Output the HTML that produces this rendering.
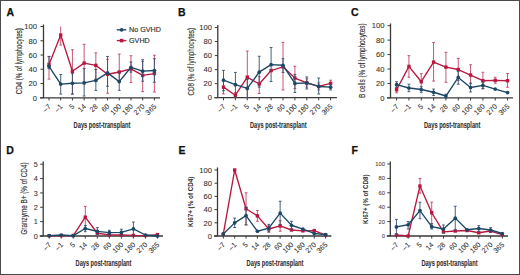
<!DOCTYPE html>
<html><head><meta charset="utf-8"><style>
html,body{margin:0;padding:0;background:#fff;}
svg{display:block;font-family:"Liberation Sans", sans-serif;}
</style></head><body>
<svg width="520" height="275" viewBox="0 0 520 275">
<rect x="0" y="0" width="520" height="275" fill="#fff"/>
<text x="6.6" y="16.3" font-size="10.5" font-weight="bold" fill="#111" stroke="#111" stroke-width="0.25">A</text>
<path d="M43.5 24.5V97.8M40 97.8H160" stroke="#3a3a3a" stroke-width="1.3" fill="none"/>
<path d="M40.5 97.8h3M40.5 83.54h3M40.5 69.28h3M40.5 55.02h3M40.5 40.76h3M40.5 26.5h3" stroke="#3a3a3a" stroke-width="1"/>
<text x="36.9" y="100.54" font-size="7.6" text-anchor="end" fill="#303030" stroke="#303030" stroke-width="0.08">0</text>
<text x="36.9" y="86.28" font-size="7.6" text-anchor="end" fill="#303030" stroke="#303030" stroke-width="0.08">20</text>
<text x="36.9" y="72.02" font-size="7.6" text-anchor="end" fill="#303030" stroke="#303030" stroke-width="0.08">40</text>
<text x="36.9" y="57.76" font-size="7.6" text-anchor="end" fill="#303030" stroke="#303030" stroke-width="0.08">60</text>
<text x="36.9" y="43.5" font-size="7.6" text-anchor="end" fill="#303030" stroke="#303030" stroke-width="0.08">80</text>
<text x="36.9" y="29.24" font-size="7.6" text-anchor="end" fill="#303030" stroke="#303030" stroke-width="0.08">100</text>
<path d="M49 97.8v2.6M60.71 97.8v2.6M72.42 97.8v2.6M84.13 97.8v2.6M95.84 97.8v2.6M107.55 97.8v2.6M119.26 97.8v2.6M130.97 97.8v2.6M142.68 97.8v2.6M154.39 97.8v2.6" stroke="#3a3a3a" stroke-width="1"/>
<text transform="translate(51.4 106.9) rotate(-45)" font-size="7.2" text-anchor="end" fill="#303030" stroke="#303030" stroke-width="0.06">–7</text>
<text transform="translate(63.11 106.9) rotate(-45)" font-size="7.2" text-anchor="end" fill="#303030" stroke="#303030" stroke-width="0.06">–1</text>
<text transform="translate(74.82 106.9) rotate(-45)" font-size="7.2" text-anchor="end" fill="#303030" stroke="#303030" stroke-width="0.06">5</text>
<text transform="translate(86.53 106.9) rotate(-45)" font-size="7.2" text-anchor="end" fill="#303030" stroke="#303030" stroke-width="0.06">14</text>
<text transform="translate(98.24 106.9) rotate(-45)" font-size="7.2" text-anchor="end" fill="#303030" stroke="#303030" stroke-width="0.06">28</text>
<text transform="translate(109.95 106.9) rotate(-45)" font-size="7.2" text-anchor="end" fill="#303030" stroke="#303030" stroke-width="0.06">60</text>
<text transform="translate(121.66 106.9) rotate(-45)" font-size="7.2" text-anchor="end" fill="#303030" stroke="#303030" stroke-width="0.06">100</text>
<text transform="translate(133.37 106.9) rotate(-45)" font-size="7.2" text-anchor="end" fill="#303030" stroke="#303030" stroke-width="0.06">180</text>
<text transform="translate(145.08 106.9) rotate(-45)" font-size="7.2" text-anchor="end" fill="#303030" stroke="#303030" stroke-width="0.06">270</text>
<text transform="translate(156.79 106.9) rotate(-45)" font-size="7.2" text-anchor="end" fill="#303030" stroke="#303030" stroke-width="0.06">365</text>
<text x="73.6" y="127.8" font-size="8.6" font-weight="bold" fill="#303030" stroke="#303030" stroke-width="0.1" textLength="56.8" lengthAdjust="spacingAndGlyphs">Days post-transplant</text>
<text transform="translate(21.6 94.3) rotate(-90)" font-size="8.3" font-weight="normal" fill="#303030" stroke="#303030" stroke-width="0.12" textLength="66.1" lengthAdjust="spacingAndGlyphs">CD4 (% of lymphocytes)</text>
<path d="M49 79.12V56.45M47.6 79.12h2.8M47.6 56.45h2.8M60.71 45.04V26.5M59.31 45.04h2.8M72.42 94.09V49.74M71.02 94.09h2.8M71.02 49.74h2.8M84.13 82.11V44.33M82.73 82.11h2.8M82.73 44.33h2.8M95.84 79.97V52.88M94.44 79.97h2.8M94.44 52.88h2.8M107.55 93.24V59.3M106.15 93.24h2.8M106.15 59.3h2.8M119.26 80.69V54.09M117.86 80.69h2.8M117.86 54.09h2.8M130.97 82.47V55.73M129.57 82.47h2.8M129.57 55.73h2.8M142.68 91.6V61.44M141.28 91.6h2.8M141.28 61.44h2.8M154.39 92.02V55.23M152.99 92.02h2.8M152.99 55.23h2.8" stroke="#bf4565" stroke-width="0.9" fill="none"/>
<polyline points="49,64.43 60.71,35.06 72.42,71.28 84.13,63.08 95.84,65.36 107.55,74.27 119.26,71.99 130.97,68.92 142.68,75.41 154.39,73.56" stroke="#b8183f" stroke-width="1.35" fill="none" stroke-linejoin="round"/>
<rect x="47.3" y="62.73" width="3.4" height="3.4" fill="#b8183f"/>
<rect x="59.01" y="33.36" width="3.4" height="3.4" fill="#b8183f"/>
<rect x="70.72" y="69.58" width="3.4" height="3.4" fill="#b8183f"/>
<rect x="82.43" y="61.38" width="3.4" height="3.4" fill="#b8183f"/>
<rect x="94.14" y="63.66" width="3.4" height="3.4" fill="#b8183f"/>
<rect x="105.85" y="72.57" width="3.4" height="3.4" fill="#b8183f"/>
<rect x="117.56" y="70.29" width="3.4" height="3.4" fill="#b8183f"/>
<rect x="129.27" y="67.22" width="3.4" height="3.4" fill="#b8183f"/>
<rect x="140.98" y="73.71" width="3.4" height="3.4" fill="#b8183f"/>
<rect x="152.69" y="71.86" width="3.4" height="3.4" fill="#b8183f"/>
<path d="M49 68.57V56.45M47.6 68.57h2.8M47.6 56.45h2.8M60.71 94.09V74.48M59.31 94.09h2.8M59.31 74.48h2.8M72.42 94.09V73.56M71.02 94.09h2.8M71.02 73.56h2.8M84.13 96.02V68.57M82.73 96.02h2.8M82.73 68.57h2.8M95.84 90.38V69.49M94.44 90.38h2.8M94.44 69.49h2.8M107.55 86.25V56.45M106.15 86.25h2.8M106.15 56.45h2.8M119.26 90.38V72.84M117.86 90.38h2.8M117.86 72.84h2.8M130.97 72.13V61.94M129.57 72.13h2.8M129.57 61.94h2.8M142.68 81.26V59.73M141.28 81.26h2.8M141.28 59.73h2.8M154.39 82.26V58.73M152.99 82.26h2.8M152.99 58.73h2.8" stroke="#34506e" stroke-width="0.9" fill="none"/>
<polyline points="49,66.43 60.71,84.11 72.42,83.25 84.13,82.9 95.84,80.4 107.55,72.84 119.26,81.61 130.97,67.28 142.68,71.13 154.39,70.49" stroke="#1c4866" stroke-width="1.35" fill="none" stroke-linejoin="round"/>
<circle cx="49" cy="66.43" r="1.85" fill="#1c4866"/>
<circle cx="60.71" cy="84.11" r="1.85" fill="#1c4866"/>
<circle cx="72.42" cy="83.25" r="1.85" fill="#1c4866"/>
<circle cx="84.13" cy="82.9" r="1.85" fill="#1c4866"/>
<circle cx="95.84" cy="80.4" r="1.85" fill="#1c4866"/>
<circle cx="107.55" cy="72.84" r="1.85" fill="#1c4866"/>
<circle cx="119.26" cy="81.61" r="1.85" fill="#1c4866"/>
<circle cx="130.97" cy="67.28" r="1.85" fill="#1c4866"/>
<circle cx="142.68" cy="71.13" r="1.85" fill="#1c4866"/>
<circle cx="154.39" cy="70.49" r="1.85" fill="#1c4866"/>
<path d="M116.8 29.8H126.3" stroke="#1c4866" stroke-width="1.35"/><circle cx="121.6" cy="29.8" r="1.9" fill="#1c4866"/>
<path d="M116.8 40.6H126.3" stroke="#b8183f" stroke-width="1.35"/><rect x="119.85" y="38.85" width="3.5" height="3.5" fill="#b8183f"/>
<text x="129" y="32.4" font-size="7.2" fill="#303030" stroke="#303030" stroke-width="0.15">No GVHD</text>
<text x="129" y="43.2" font-size="7.2" fill="#303030" stroke="#303030" stroke-width="0.15">GVHD</text>
<text x="178" y="16" font-size="10.5" font-weight="bold" fill="#111" stroke="#111" stroke-width="0.25">B</text>
<path d="M217.8 25V97.7M214.3 97.7H336.9" stroke="#3a3a3a" stroke-width="1.3" fill="none"/>
<path d="M214.8 97.7h3M214.8 83.66h3M214.8 69.62h3M214.8 55.58h3M214.8 41.54h3M214.8 27.5h3" stroke="#3a3a3a" stroke-width="1"/>
<text x="211.9" y="100.44" font-size="7.6" text-anchor="end" fill="#303030" stroke="#303030" stroke-width="0.08">0</text>
<text x="211.9" y="86.4" font-size="7.6" text-anchor="end" fill="#303030" stroke="#303030" stroke-width="0.08">20</text>
<text x="211.9" y="72.36" font-size="7.6" text-anchor="end" fill="#303030" stroke="#303030" stroke-width="0.08">40</text>
<text x="211.9" y="58.32" font-size="7.6" text-anchor="end" fill="#303030" stroke="#303030" stroke-width="0.08">60</text>
<text x="211.9" y="44.28" font-size="7.6" text-anchor="end" fill="#303030" stroke="#303030" stroke-width="0.08">80</text>
<text x="211.9" y="30.24" font-size="7.6" text-anchor="end" fill="#303030" stroke="#303030" stroke-width="0.08">100</text>
<path d="M223.5 97.7v2.6M235.4 97.7v2.6M247.3 97.7v2.6M259.2 97.7v2.6M271.1 97.7v2.6M283 97.7v2.6M294.9 97.7v2.6M306.8 97.7v2.6M318.7 97.7v2.6M330.6 97.7v2.6" stroke="#3a3a3a" stroke-width="1"/>
<text transform="translate(225.9 106.8) rotate(-45)" font-size="7.2" text-anchor="end" fill="#303030" stroke="#303030" stroke-width="0.06">–7</text>
<text transform="translate(237.8 106.8) rotate(-45)" font-size="7.2" text-anchor="end" fill="#303030" stroke="#303030" stroke-width="0.06">–1</text>
<text transform="translate(249.7 106.8) rotate(-45)" font-size="7.2" text-anchor="end" fill="#303030" stroke="#303030" stroke-width="0.06">5</text>
<text transform="translate(261.6 106.8) rotate(-45)" font-size="7.2" text-anchor="end" fill="#303030" stroke="#303030" stroke-width="0.06">14</text>
<text transform="translate(273.5 106.8) rotate(-45)" font-size="7.2" text-anchor="end" fill="#303030" stroke="#303030" stroke-width="0.06">28</text>
<text transform="translate(285.4 106.8) rotate(-45)" font-size="7.2" text-anchor="end" fill="#303030" stroke="#303030" stroke-width="0.06">60</text>
<text transform="translate(297.3 106.8) rotate(-45)" font-size="7.2" text-anchor="end" fill="#303030" stroke="#303030" stroke-width="0.06">100</text>
<text transform="translate(309.2 106.8) rotate(-45)" font-size="7.2" text-anchor="end" fill="#303030" stroke="#303030" stroke-width="0.06">180</text>
<text transform="translate(321.1 106.8) rotate(-45)" font-size="7.2" text-anchor="end" fill="#303030" stroke="#303030" stroke-width="0.06">270</text>
<text transform="translate(333 106.8) rotate(-45)" font-size="7.2" text-anchor="end" fill="#303030" stroke="#303030" stroke-width="0.06">365</text>
<text x="250" y="127.8" font-size="8.6" font-weight="bold" fill="#303030" stroke="#303030" stroke-width="0.1" textLength="56.6" lengthAdjust="spacingAndGlyphs">Days post-transplant</text>
<text transform="translate(193.6 95.5) rotate(-90)" font-size="8.3" font-weight="normal" fill="#303030" stroke="#303030" stroke-width="0.12" textLength="67.5" lengthAdjust="spacingAndGlyphs">CD8 (% of lymphocytes)</text>
<path d="M223.5 93.98V80.15M222.1 93.98h2.8M222.1 80.15h2.8M235.4 97.7V92.79M234 97.7h2.8M234 92.79h2.8M247.3 97.7V51.02M245.9 97.7h2.8M245.9 51.02h2.8M259.2 93.49V76.64M257.8 93.49h2.8M257.8 76.64h2.8M283 89.98V42.45M281.6 89.98h2.8M281.6 42.45h2.8M294.9 88.57V66.25M293.5 88.57h2.8M293.5 66.25h2.8M306.8 87.17V78.75M305.4 87.17h2.8M305.4 78.75h2.8M318.7 89.98V82.96M317.3 89.98h2.8M317.3 82.96h2.8M330.6 86.47V80.22M329.2 86.47h2.8M329.2 80.22h2.8" stroke="#bf4565" stroke-width="0.9" fill="none"/>
<polyline points="223.5,87.17 235.4,95.24 247.3,77.13 259.2,84.01 271.1,70.53 283,66.81 294.9,78.04 306.8,82.96 318.7,86.47 330.6,83.38" stroke="#b8183f" stroke-width="1.35" fill="none" stroke-linejoin="round"/>
<rect x="221.8" y="85.47" width="3.4" height="3.4" fill="#b8183f"/>
<rect x="233.7" y="93.54" width="3.4" height="3.4" fill="#b8183f"/>
<rect x="245.6" y="75.43" width="3.4" height="3.4" fill="#b8183f"/>
<rect x="257.5" y="82.31" width="3.4" height="3.4" fill="#b8183f"/>
<rect x="269.4" y="68.83" width="3.4" height="3.4" fill="#b8183f"/>
<rect x="281.3" y="65.11" width="3.4" height="3.4" fill="#b8183f"/>
<rect x="293.2" y="76.34" width="3.4" height="3.4" fill="#b8183f"/>
<rect x="305.1" y="81.26" width="3.4" height="3.4" fill="#b8183f"/>
<rect x="317" y="84.77" width="3.4" height="3.4" fill="#b8183f"/>
<rect x="328.9" y="81.68" width="3.4" height="3.4" fill="#b8183f"/>
<path d="M223.5 90.68V70.32M222.1 90.68h2.8M222.1 70.32h2.8M235.4 97V72.43M234 97h2.8M234 72.43h2.8M247.3 97.7V79.45M245.9 97.7h2.8M245.9 79.45h2.8M259.2 87.17V56.28M257.8 87.17h2.8M257.8 56.28h2.8M271.1 81.55V47.51M269.7 81.55h2.8M269.7 47.51h2.8M283 72.43V58.67M281.6 72.43h2.8M281.6 58.67h2.8M294.9 92.51V74.53M293.5 92.51h2.8M293.5 74.53h2.8M306.8 89V76.92M305.4 89h2.8M305.4 76.92h2.8M318.7 93.98V78.04M317.3 93.98h2.8M317.3 78.04h2.8M330.6 89.98V84.36M329.2 89.98h2.8M329.2 84.36h2.8" stroke="#34506e" stroke-width="0.9" fill="none"/>
<polyline points="223.5,80.22 235.4,84.64 247.3,88.43 259.2,72.15 271.1,64.64 283,65.27 294.9,83.38 306.8,82.96 318.7,86.47 330.6,87.17" stroke="#1c4866" stroke-width="1.35" fill="none" stroke-linejoin="round"/>
<circle cx="223.5" cy="80.22" r="1.85" fill="#1c4866"/>
<circle cx="235.4" cy="84.64" r="1.85" fill="#1c4866"/>
<circle cx="247.3" cy="88.43" r="1.85" fill="#1c4866"/>
<circle cx="259.2" cy="72.15" r="1.85" fill="#1c4866"/>
<circle cx="271.1" cy="64.64" r="1.85" fill="#1c4866"/>
<circle cx="283" cy="65.27" r="1.85" fill="#1c4866"/>
<circle cx="294.9" cy="83.38" r="1.85" fill="#1c4866"/>
<circle cx="306.8" cy="82.96" r="1.85" fill="#1c4866"/>
<circle cx="318.7" cy="86.47" r="1.85" fill="#1c4866"/>
<circle cx="330.6" cy="87.17" r="1.85" fill="#1c4866"/>
<text x="351" y="16" font-size="10.5" font-weight="bold" fill="#111" stroke="#111" stroke-width="0.25">C</text>
<path d="M390.5 23.5V97.9M387 97.9H513" stroke="#3a3a3a" stroke-width="1.3" fill="none"/>
<path d="M387.5 97.9h3M387.5 83.46h3M387.5 69.02h3M387.5 54.58h3M387.5 40.14h3M387.5 25.7h3" stroke="#3a3a3a" stroke-width="1"/>
<text x="384.4" y="100.64" font-size="7.6" text-anchor="end" fill="#303030" stroke="#303030" stroke-width="0.08">0</text>
<text x="384.4" y="86.2" font-size="7.6" text-anchor="end" fill="#303030" stroke="#303030" stroke-width="0.08">20</text>
<text x="384.4" y="71.76" font-size="7.6" text-anchor="end" fill="#303030" stroke="#303030" stroke-width="0.08">40</text>
<text x="384.4" y="57.32" font-size="7.6" text-anchor="end" fill="#303030" stroke="#303030" stroke-width="0.08">60</text>
<text x="384.4" y="42.88" font-size="7.6" text-anchor="end" fill="#303030" stroke="#303030" stroke-width="0.08">80</text>
<text x="384.4" y="28.44" font-size="7.6" text-anchor="end" fill="#303030" stroke="#303030" stroke-width="0.08">100</text>
<path d="M396.6 97.9v2.6M408.93 97.9v2.6M421.26 97.9v2.6M433.59 97.9v2.6M445.92 97.9v2.6M458.25 97.9v2.6M470.58 97.9v2.6M482.91 97.9v2.6M495.24 97.9v2.6M507.57 97.9v2.6" stroke="#3a3a3a" stroke-width="1"/>
<text transform="translate(399 107) rotate(-45)" font-size="7.2" text-anchor="end" fill="#303030" stroke="#303030" stroke-width="0.06">–7</text>
<text transform="translate(411.33 107) rotate(-45)" font-size="7.2" text-anchor="end" fill="#303030" stroke="#303030" stroke-width="0.06">–1</text>
<text transform="translate(423.66 107) rotate(-45)" font-size="7.2" text-anchor="end" fill="#303030" stroke="#303030" stroke-width="0.06">5</text>
<text transform="translate(435.99 107) rotate(-45)" font-size="7.2" text-anchor="end" fill="#303030" stroke="#303030" stroke-width="0.06">14</text>
<text transform="translate(448.32 107) rotate(-45)" font-size="7.2" text-anchor="end" fill="#303030" stroke="#303030" stroke-width="0.06">28</text>
<text transform="translate(460.65 107) rotate(-45)" font-size="7.2" text-anchor="end" fill="#303030" stroke="#303030" stroke-width="0.06">60</text>
<text transform="translate(472.98 107) rotate(-45)" font-size="7.2" text-anchor="end" fill="#303030" stroke="#303030" stroke-width="0.06">100</text>
<text transform="translate(485.31 107) rotate(-45)" font-size="7.2" text-anchor="end" fill="#303030" stroke="#303030" stroke-width="0.06">180</text>
<text transform="translate(497.64 107) rotate(-45)" font-size="7.2" text-anchor="end" fill="#303030" stroke="#303030" stroke-width="0.06">270</text>
<text transform="translate(509.97 107) rotate(-45)" font-size="7.2" text-anchor="end" fill="#303030" stroke="#303030" stroke-width="0.06">365</text>
<text x="424" y="127.8" font-size="8.6" font-weight="bold" fill="#303030" stroke="#303030" stroke-width="0.1" textLength="56.4" lengthAdjust="spacingAndGlyphs">Days post-transplant</text>
<text transform="translate(365.4 98.1) rotate(-90)" font-size="8.3" font-weight="normal" fill="#303030" stroke="#303030" stroke-width="0.12" textLength="74.7" lengthAdjust="spacingAndGlyphs">B cells (% of lymphocytes)</text>
<path d="M396.6 92.85V87.21M395.2 92.85h2.8M395.2 87.21h2.8M408.93 77.25V55.66M407.53 77.25h2.8M407.53 55.66h2.8M421.26 89.81V73.64M419.86 89.81h2.8M419.86 73.64h2.8M433.59 81.08V42.52M432.19 81.08h2.8M432.19 42.52h2.8M445.92 82.3V52.34M444.52 82.3h2.8M444.52 52.34h2.8M458.25 80.57V58.48M456.85 80.57h2.8M456.85 58.48h2.8M470.58 83.68V64.76M469.18 83.68h2.8M469.18 64.76h2.8M482.91 88.51V72.27M481.51 88.51h2.8M481.51 72.27h2.8M495.24 83.24V77.25M493.84 83.24h2.8M493.84 77.25h2.8M507.57 87.21V73.5M506.17 87.21h2.8M506.17 73.5h2.8" stroke="#bf4565" stroke-width="0.9" fill="none"/>
<polyline points="396.6,89.74 408.93,66.42 421.26,81.73 433.59,62.09 445.92,67.14 458.25,69.53 470.58,75.01 482.91,80.72 495.24,80.43 507.57,80.72" stroke="#b8183f" stroke-width="1.35" fill="none" stroke-linejoin="round"/>
<rect x="394.9" y="88.04" width="3.4" height="3.4" fill="#b8183f"/>
<rect x="407.23" y="64.72" width="3.4" height="3.4" fill="#b8183f"/>
<rect x="419.56" y="80.03" width="3.4" height="3.4" fill="#b8183f"/>
<rect x="431.89" y="60.39" width="3.4" height="3.4" fill="#b8183f"/>
<rect x="444.22" y="65.44" width="3.4" height="3.4" fill="#b8183f"/>
<rect x="456.55" y="67.83" width="3.4" height="3.4" fill="#b8183f"/>
<rect x="468.88" y="73.31" width="3.4" height="3.4" fill="#b8183f"/>
<rect x="481.21" y="79.02" width="3.4" height="3.4" fill="#b8183f"/>
<rect x="493.54" y="78.73" width="3.4" height="3.4" fill="#b8183f"/>
<rect x="505.87" y="79.02" width="3.4" height="3.4" fill="#b8183f"/>
<path d="M396.6 87.36V81.73M395.2 87.36h2.8M395.2 81.73h2.8M408.93 91.62V84.18M407.53 91.62h2.8M407.53 84.18h2.8M421.26 92.34V86.71M419.86 92.34h2.8M419.86 86.71h2.8M433.59 95.45V89.09M432.19 95.45h2.8M432.19 89.09h2.8M445.92 97.9V94.29M444.52 97.9h2.8M444.52 94.29h2.8M458.25 84.18V71.19M456.85 84.18h2.8M456.85 71.19h2.8M470.58 91.98V83.1M469.18 91.98h2.8M469.18 83.1h2.8M482.91 88.88V82.02M481.51 88.88h2.8M481.51 82.02h2.8" stroke="#34506e" stroke-width="0.9" fill="none"/>
<polyline points="396.6,84.54 408.93,88.01 421.26,89.52 433.59,92.27 445.92,96.02 458.25,77.47 470.58,87.5 482.91,85.41 495.24,89.09 507.57,92.56" stroke="#1c4866" stroke-width="1.35" fill="none" stroke-linejoin="round"/>
<circle cx="396.6" cy="84.54" r="1.85" fill="#1c4866"/>
<circle cx="408.93" cy="88.01" r="1.85" fill="#1c4866"/>
<circle cx="421.26" cy="89.52" r="1.85" fill="#1c4866"/>
<circle cx="433.59" cy="92.27" r="1.85" fill="#1c4866"/>
<circle cx="445.92" cy="96.02" r="1.85" fill="#1c4866"/>
<circle cx="458.25" cy="77.47" r="1.85" fill="#1c4866"/>
<circle cx="470.58" cy="87.5" r="1.85" fill="#1c4866"/>
<circle cx="482.91" cy="85.41" r="1.85" fill="#1c4866"/>
<circle cx="495.24" cy="89.09" r="1.85" fill="#1c4866"/>
<circle cx="507.57" cy="92.56" r="1.85" fill="#1c4866"/>
<text x="6.2" y="154.3" font-size="10.5" font-weight="bold" fill="#111" stroke="#111" stroke-width="0.25">D</text>
<path d="M43.2 161.5V236M39.7 236H163" stroke="#3a3a3a" stroke-width="1.3" fill="none"/>
<path d="M40.2 236h3M40.2 221.64h3M40.2 207.28h3M40.2 192.92h3M40.2 178.56h3M40.2 164.2h3" stroke="#3a3a3a" stroke-width="1"/>
<text x="37.7" y="238.59" font-size="7.2" text-anchor="end" fill="#333" stroke="#333" stroke-width="0.08">0</text>
<text x="37.7" y="224.23" font-size="7.2" text-anchor="end" fill="#333" stroke="#333" stroke-width="0.08">1</text>
<text x="37.7" y="209.87" font-size="7.2" text-anchor="end" fill="#333" stroke="#333" stroke-width="0.08">2</text>
<text x="37.7" y="195.51" font-size="7.2" text-anchor="end" fill="#333" stroke="#333" stroke-width="0.08">3</text>
<text x="37.7" y="181.15" font-size="7.2" text-anchor="end" fill="#333" stroke="#333" stroke-width="0.08">4</text>
<text x="37.7" y="166.79" font-size="7.2" text-anchor="end" fill="#333" stroke="#333" stroke-width="0.08">5</text>
<path d="M49.2 236v2.6M61.23 236v2.6M73.26 236v2.6M85.29 236v2.6M97.32 236v2.6M109.35 236v2.6M121.38 236v2.6M133.41 236v2.6M145.44 236v2.6M157.47 236v2.6" stroke="#3a3a3a" stroke-width="1"/>
<text transform="translate(51.6 245.1) rotate(-45)" font-size="7.2" text-anchor="end" fill="#303030" stroke="#303030" stroke-width="0.06">–7</text>
<text transform="translate(63.63 245.1) rotate(-45)" font-size="7.2" text-anchor="end" fill="#303030" stroke="#303030" stroke-width="0.06">–1</text>
<text transform="translate(75.66 245.1) rotate(-45)" font-size="7.2" text-anchor="end" fill="#303030" stroke="#303030" stroke-width="0.06">5</text>
<text transform="translate(87.69 245.1) rotate(-45)" font-size="7.2" text-anchor="end" fill="#303030" stroke="#303030" stroke-width="0.06">14</text>
<text transform="translate(99.72 245.1) rotate(-45)" font-size="7.2" text-anchor="end" fill="#303030" stroke="#303030" stroke-width="0.06">28</text>
<text transform="translate(111.75 245.1) rotate(-45)" font-size="7.2" text-anchor="end" fill="#303030" stroke="#303030" stroke-width="0.06">60</text>
<text transform="translate(123.78 245.1) rotate(-45)" font-size="7.2" text-anchor="end" fill="#303030" stroke="#303030" stroke-width="0.06">100</text>
<text transform="translate(135.81 245.1) rotate(-45)" font-size="7.2" text-anchor="end" fill="#303030" stroke="#303030" stroke-width="0.06">180</text>
<text transform="translate(147.84 245.1) rotate(-45)" font-size="7.2" text-anchor="end" fill="#303030" stroke="#303030" stroke-width="0.06">270</text>
<text transform="translate(159.87 245.1) rotate(-45)" font-size="7.2" text-anchor="end" fill="#303030" stroke="#303030" stroke-width="0.06">365</text>
<text x="75.6" y="266.3" font-size="8.6" font-weight="bold" fill="#303030" stroke="#303030" stroke-width="0.1" textLength="55.8" lengthAdjust="spacingAndGlyphs">Days post-transplant</text>
<text transform="translate(27.2 234.6) rotate(-90)" font-size="8.3" font-weight="normal" fill="#303030" stroke="#303030" stroke-width="0.12" textLength="72.2" lengthAdjust="spacingAndGlyphs">Granzyme B+ (% of CD4)</text>
<path d="M85.29 228.1V206.42M83.89 228.1h2.8M83.89 206.42h2.8M97.32 235.28V230.97M95.92 235.28h2.8M95.92 230.97h2.8M133.41 236V234.56M132.01 236h2.8M132.01 234.56h2.8" stroke="#bf4565" stroke-width="0.9" fill="none"/>
<polyline points="49.2,235.71 61.23,235.57 73.26,235.57 85.29,217.19 97.32,233.27 109.35,234.85 121.38,234.99 133.41,235.43 145.44,235.57 157.47,234.56" stroke="#b8183f" stroke-width="1.35" fill="none" stroke-linejoin="round"/>
<rect x="47.5" y="234.01" width="3.4" height="3.4" fill="#b8183f"/>
<rect x="59.53" y="233.87" width="3.4" height="3.4" fill="#b8183f"/>
<rect x="71.56" y="233.87" width="3.4" height="3.4" fill="#b8183f"/>
<rect x="83.59" y="215.49" width="3.4" height="3.4" fill="#b8183f"/>
<rect x="95.62" y="231.57" width="3.4" height="3.4" fill="#b8183f"/>
<rect x="107.65" y="233.15" width="3.4" height="3.4" fill="#b8183f"/>
<rect x="119.68" y="233.29" width="3.4" height="3.4" fill="#b8183f"/>
<rect x="131.71" y="233.73" width="3.4" height="3.4" fill="#b8183f"/>
<rect x="143.74" y="233.87" width="3.4" height="3.4" fill="#b8183f"/>
<rect x="155.77" y="232.86" width="3.4" height="3.4" fill="#b8183f"/>
<path d="M85.29 231.69V225.52M83.89 231.69h2.8M83.89 225.52h2.8M97.32 234.56V227.67M95.92 234.56h2.8M95.92 227.67h2.8M109.35 234.85V230.26M107.95 234.85h2.8M107.95 230.26h2.8M121.38 235.28V229.25M119.98 235.28h2.8M119.98 229.25h2.8M133.41 235.71V222.07M132.01 235.71h2.8M132.01 222.07h2.8" stroke="#34506e" stroke-width="0.9" fill="none"/>
<polyline points="49.2,235.57 61.23,234.99 73.26,235.57 85.29,228.53 97.32,231.4 109.35,232.7 121.38,232.41 133.41,228.96 145.44,234.99 157.47,236" stroke="#1c4866" stroke-width="1.35" fill="none" stroke-linejoin="round"/>
<circle cx="49.2" cy="235.57" r="1.85" fill="#1c4866"/>
<circle cx="61.23" cy="234.99" r="1.85" fill="#1c4866"/>
<circle cx="73.26" cy="235.57" r="1.85" fill="#1c4866"/>
<circle cx="85.29" cy="228.53" r="1.85" fill="#1c4866"/>
<circle cx="97.32" cy="231.4" r="1.85" fill="#1c4866"/>
<circle cx="109.35" cy="232.7" r="1.85" fill="#1c4866"/>
<circle cx="121.38" cy="232.41" r="1.85" fill="#1c4866"/>
<circle cx="133.41" cy="228.96" r="1.85" fill="#1c4866"/>
<circle cx="145.44" cy="234.99" r="1.85" fill="#1c4866"/>
<circle cx="157.47" cy="236" r="1.85" fill="#1c4866"/>
<text x="178.6" y="154.3" font-size="10.5" font-weight="bold" fill="#111" stroke="#111" stroke-width="0.25">E</text>
<path d="M217.5 167.5V236M214 236H331.4" stroke="#3a3a3a" stroke-width="1.3" fill="none"/>
<path d="M214.5 236h3M214.5 222.8h3M214.5 209.6h3M214.5 196.4h3M214.5 183.2h3M214.5 170h3" stroke="#3a3a3a" stroke-width="1"/>
<text x="211.9" y="238.74" font-size="7.6" text-anchor="end" fill="#303030" stroke="#303030" stroke-width="0.08">0</text>
<text x="211.9" y="225.54" font-size="7.6" text-anchor="end" fill="#303030" stroke="#303030" stroke-width="0.08">20</text>
<text x="211.9" y="212.34" font-size="7.6" text-anchor="end" fill="#303030" stroke="#303030" stroke-width="0.08">40</text>
<text x="211.9" y="199.14" font-size="7.6" text-anchor="end" fill="#303030" stroke="#303030" stroke-width="0.08">60</text>
<text x="211.9" y="185.94" font-size="7.6" text-anchor="end" fill="#303030" stroke="#303030" stroke-width="0.08">80</text>
<text x="211.9" y="172.74" font-size="7.6" text-anchor="end" fill="#303030" stroke="#303030" stroke-width="0.08">100</text>
<path d="M223.3 236v2.6M234.67 236v2.6M246.04 236v2.6M257.41 236v2.6M268.78 236v2.6M280.15 236v2.6M291.52 236v2.6M302.89 236v2.6M314.26 236v2.6M325.63 236v2.6" stroke="#3a3a3a" stroke-width="1"/>
<text transform="translate(225.7 245.1) rotate(-45)" font-size="7.2" text-anchor="end" fill="#303030" stroke="#303030" stroke-width="0.06">–7</text>
<text transform="translate(237.07 245.1) rotate(-45)" font-size="7.2" text-anchor="end" fill="#303030" stroke="#303030" stroke-width="0.06">–1</text>
<text transform="translate(248.44 245.1) rotate(-45)" font-size="7.2" text-anchor="end" fill="#303030" stroke="#303030" stroke-width="0.06">5</text>
<text transform="translate(259.81 245.1) rotate(-45)" font-size="7.2" text-anchor="end" fill="#303030" stroke="#303030" stroke-width="0.06">14</text>
<text transform="translate(271.18 245.1) rotate(-45)" font-size="7.2" text-anchor="end" fill="#303030" stroke="#303030" stroke-width="0.06">28</text>
<text transform="translate(282.55 245.1) rotate(-45)" font-size="7.2" text-anchor="end" fill="#303030" stroke="#303030" stroke-width="0.06">60</text>
<text transform="translate(293.92 245.1) rotate(-45)" font-size="7.2" text-anchor="end" fill="#303030" stroke="#303030" stroke-width="0.06">100</text>
<text transform="translate(305.29 245.1) rotate(-45)" font-size="7.2" text-anchor="end" fill="#303030" stroke="#303030" stroke-width="0.06">180</text>
<text transform="translate(316.66 245.1) rotate(-45)" font-size="7.2" text-anchor="end" fill="#303030" stroke="#303030" stroke-width="0.06">270</text>
<text transform="translate(328.03 245.1) rotate(-45)" font-size="7.2" text-anchor="end" fill="#303030" stroke="#303030" stroke-width="0.06">365</text>
<text x="246.6" y="266.3" font-size="8.6" font-weight="bold" fill="#303030" stroke="#303030" stroke-width="0.1" textLength="56.8" lengthAdjust="spacingAndGlyphs">Days post-transplant</text>
<text transform="translate(193.2 227.1) rotate(-90)" font-size="8" font-weight="bold" fill="#303030" stroke="#303030" stroke-width="0" textLength="50.5" lengthAdjust="spacingAndGlyphs">Ki67+ (% of CD4)</text>
<path d="M246.04 224.98V192.77M244.64 224.98h2.8M244.64 192.77h2.8M257.41 221.28V210.59M256.01 221.28h2.8M256.01 210.59h2.8M268.78 232.24V225.77M267.38 232.24h2.8M267.38 225.77h2.8M280.15 231.25V220.62M278.75 231.25h2.8M278.75 220.62h2.8" stroke="#bf4565" stroke-width="0.9" fill="none"/>
<polyline points="223.3,234.02 234.67,170 246.04,208.74 257.41,215.87 268.78,229 280.15,225.97 291.52,229.99 302.89,230.85 314.26,230.59 325.63,235.01" stroke="#b8183f" stroke-width="1.35" fill="none" stroke-linejoin="round"/>
<rect x="221.6" y="232.32" width="3.4" height="3.4" fill="#b8183f"/>
<rect x="232.97" y="168.3" width="3.4" height="3.4" fill="#b8183f"/>
<rect x="244.34" y="207.04" width="3.4" height="3.4" fill="#b8183f"/>
<rect x="255.71" y="214.17" width="3.4" height="3.4" fill="#b8183f"/>
<rect x="267.08" y="227.3" width="3.4" height="3.4" fill="#b8183f"/>
<rect x="278.45" y="224.27" width="3.4" height="3.4" fill="#b8183f"/>
<rect x="289.82" y="228.29" width="3.4" height="3.4" fill="#b8183f"/>
<rect x="301.19" y="229.15" width="3.4" height="3.4" fill="#b8183f"/>
<rect x="312.56" y="228.89" width="3.4" height="3.4" fill="#b8183f"/>
<rect x="323.93" y="233.31" width="3.4" height="3.4" fill="#b8183f"/>
<path d="M234.67 227.49V218.11M233.27 227.49h2.8M233.27 218.11h2.8M246.04 224.78V206.96M244.64 224.78h2.8M244.64 206.96h2.8M268.78 231.71V224.38M267.38 231.71h2.8M267.38 224.38h2.8M280.15 224.78V201.22M278.75 224.78h2.8M278.75 201.22h2.8M291.52 229.2V221.28M290.12 229.2h2.8M290.12 221.28h2.8" stroke="#34506e" stroke-width="0.9" fill="none"/>
<polyline points="223.3,234.02 234.67,222.87 246.04,215.61 257.41,231.25 268.78,228.08 280.15,213.1 291.52,225.24 302.89,229.07 314.26,233.49 325.63,234.61" stroke="#1c4866" stroke-width="1.35" fill="none" stroke-linejoin="round"/>
<circle cx="223.3" cy="234.02" r="1.85" fill="#1c4866"/>
<circle cx="234.67" cy="222.87" r="1.85" fill="#1c4866"/>
<circle cx="246.04" cy="215.61" r="1.85" fill="#1c4866"/>
<circle cx="257.41" cy="231.25" r="1.85" fill="#1c4866"/>
<circle cx="268.78" cy="228.08" r="1.85" fill="#1c4866"/>
<circle cx="280.15" cy="213.1" r="1.85" fill="#1c4866"/>
<circle cx="291.52" cy="225.24" r="1.85" fill="#1c4866"/>
<circle cx="302.89" cy="229.07" r="1.85" fill="#1c4866"/>
<circle cx="314.26" cy="233.49" r="1.85" fill="#1c4866"/>
<circle cx="325.63" cy="234.61" r="1.85" fill="#1c4866"/>
<text x="351.4" y="154.3" font-size="10.5" font-weight="bold" fill="#111" stroke="#111" stroke-width="0.25">F</text>
<path d="M390.3 161.5V236M386.8 236H508" stroke="#3a3a3a" stroke-width="1.3" fill="none"/>
<path d="M387.3 236h3M387.3 221.6h3M387.3 207.2h3M387.3 192.8h3M387.3 178.4h3M387.3 164h3" stroke="#3a3a3a" stroke-width="1"/>
<text x="384.9" y="238.09" font-size="5.8" text-anchor="end" fill="#444" stroke="#444" stroke-width="0.08">0</text>
<text x="384.9" y="223.69" font-size="5.8" text-anchor="end" fill="#444" stroke="#444" stroke-width="0.08">20</text>
<text x="384.9" y="209.29" font-size="5.8" text-anchor="end" fill="#444" stroke="#444" stroke-width="0.08">40</text>
<text x="384.9" y="194.89" font-size="5.8" text-anchor="end" fill="#444" stroke="#444" stroke-width="0.08">60</text>
<text x="384.9" y="180.49" font-size="5.8" text-anchor="end" fill="#444" stroke="#444" stroke-width="0.08">80</text>
<text x="384.9" y="166.09" font-size="5.8" text-anchor="end" fill="#444" stroke="#444" stroke-width="0.08">100</text>
<path d="M396.4 236v2.6M408.17 236v2.6M419.94 236v2.6M431.71 236v2.6M443.48 236v2.6M455.25 236v2.6M467.02 236v2.6M478.79 236v2.6M490.56 236v2.6M502.33 236v2.6" stroke="#3a3a3a" stroke-width="1"/>
<text transform="translate(398.8 245.1) rotate(-45)" font-size="7.2" text-anchor="end" fill="#303030" stroke="#303030" stroke-width="0.06">–7</text>
<text transform="translate(410.57 245.1) rotate(-45)" font-size="7.2" text-anchor="end" fill="#303030" stroke="#303030" stroke-width="0.06">–1</text>
<text transform="translate(422.34 245.1) rotate(-45)" font-size="7.2" text-anchor="end" fill="#303030" stroke="#303030" stroke-width="0.06">5</text>
<text transform="translate(434.11 245.1) rotate(-45)" font-size="7.2" text-anchor="end" fill="#303030" stroke="#303030" stroke-width="0.06">14</text>
<text transform="translate(445.88 245.1) rotate(-45)" font-size="7.2" text-anchor="end" fill="#303030" stroke="#303030" stroke-width="0.06">28</text>
<text transform="translate(457.65 245.1) rotate(-45)" font-size="7.2" text-anchor="end" fill="#303030" stroke="#303030" stroke-width="0.06">60</text>
<text transform="translate(469.42 245.1) rotate(-45)" font-size="7.2" text-anchor="end" fill="#303030" stroke="#303030" stroke-width="0.06">100</text>
<text transform="translate(481.19 245.1) rotate(-45)" font-size="7.2" text-anchor="end" fill="#303030" stroke="#303030" stroke-width="0.06">180</text>
<text transform="translate(492.96 245.1) rotate(-45)" font-size="7.2" text-anchor="end" fill="#303030" stroke="#303030" stroke-width="0.06">270</text>
<text transform="translate(504.73 245.1) rotate(-45)" font-size="7.2" text-anchor="end" fill="#303030" stroke="#303030" stroke-width="0.06">365</text>
<text x="421.4" y="266.3" font-size="8.6" font-weight="bold" fill="#303030" stroke="#303030" stroke-width="0.1" textLength="56.2" lengthAdjust="spacingAndGlyphs">Days post-transplant</text>
<text transform="translate(367.6 224) rotate(-90)" font-size="8" font-weight="bold" fill="#303030" stroke="#303030" stroke-width="0" textLength="49.5" lengthAdjust="spacingAndGlyphs">Ki67+ (% of CD8)</text>
<path d="M419.94 193.09V178.47M418.54 193.09h2.8M418.54 178.47h2.8M431.71 223.76V202.16M430.31 223.76h2.8M430.31 202.16h2.8" stroke="#bf4565" stroke-width="0.9" fill="none"/>
<polyline points="396.4,234.99 408.17,236 419.94,186.03 431.71,212.74 443.48,231.9 455.25,231.03 467.02,230.53 478.79,232.76 490.56,231.03 502.33,234.56" stroke="#b8183f" stroke-width="1.35" fill="none" stroke-linejoin="round"/>
<rect x="394.7" y="233.29" width="3.4" height="3.4" fill="#b8183f"/>
<rect x="406.47" y="234.3" width="3.4" height="3.4" fill="#b8183f"/>
<rect x="418.24" y="184.33" width="3.4" height="3.4" fill="#b8183f"/>
<rect x="430.01" y="211.04" width="3.4" height="3.4" fill="#b8183f"/>
<rect x="441.78" y="230.2" width="3.4" height="3.4" fill="#b8183f"/>
<rect x="453.55" y="229.33" width="3.4" height="3.4" fill="#b8183f"/>
<rect x="465.32" y="228.83" width="3.4" height="3.4" fill="#b8183f"/>
<rect x="477.09" y="231.06" width="3.4" height="3.4" fill="#b8183f"/>
<rect x="488.86" y="229.33" width="3.4" height="3.4" fill="#b8183f"/>
<rect x="500.63" y="232.86" width="3.4" height="3.4" fill="#b8183f"/>
<path d="M396.4 234.42V219.44M395 234.42h2.8M395 219.44h2.8M408.17 229.02V221.53M406.77 229.02h2.8M406.77 221.53h2.8M419.94 218.72V202.23M418.54 218.72h2.8M418.54 202.23h2.8M431.71 229.02V223.76M430.31 229.02h2.8M430.31 223.76h2.8M443.48 233.05V224.98M442.08 233.05h2.8M442.08 224.98h2.8M455.25 230.02V206.26M453.85 230.02h2.8M453.85 206.26h2.8M478.79 231.39V225.63M477.39 231.39h2.8M477.39 225.63h2.8M490.56 232.4V227.65M489.16 232.4h2.8M489.16 227.65h2.8" stroke="#34506e" stroke-width="0.9" fill="none"/>
<polyline points="396.4,226.93 408.17,224.77 419.94,210.58 431.71,226.64 443.48,229.02 455.25,218.14 467.02,229.74 478.79,228.51 490.56,230.02 502.33,233.48" stroke="#1c4866" stroke-width="1.35" fill="none" stroke-linejoin="round"/>
<circle cx="396.4" cy="226.93" r="1.85" fill="#1c4866"/>
<circle cx="408.17" cy="224.77" r="1.85" fill="#1c4866"/>
<circle cx="419.94" cy="210.58" r="1.85" fill="#1c4866"/>
<circle cx="431.71" cy="226.64" r="1.85" fill="#1c4866"/>
<circle cx="443.48" cy="229.02" r="1.85" fill="#1c4866"/>
<circle cx="455.25" cy="218.14" r="1.85" fill="#1c4866"/>
<circle cx="467.02" cy="229.74" r="1.85" fill="#1c4866"/>
<circle cx="478.79" cy="228.51" r="1.85" fill="#1c4866"/>
<circle cx="490.56" cy="230.02" r="1.85" fill="#1c4866"/>
<circle cx="502.33" cy="233.48" r="1.85" fill="#1c4866"/>
<rect x="0.5" y="0.5" width="519" height="274" fill="none" stroke="#4a4a4a" stroke-width="1"/>
</svg>
</body></html>
